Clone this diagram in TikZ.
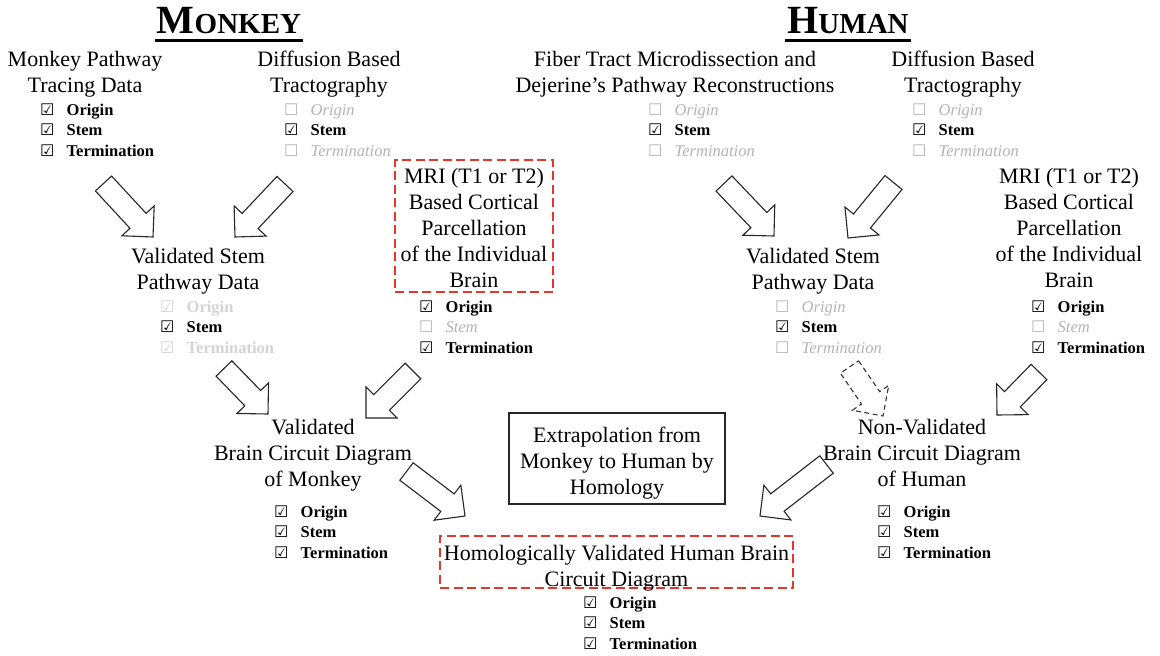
\documentclass[tikz,border=0pt]{standalone}
\usepackage{fontspec}
\setmainfont{Liberation Serif}
\newfontfamily\symf{DejaVu Sans}
\usetikzlibrary{calc}
\definecolor{redd}{HTML}{E0392B}
\definecolor{gA}{HTML}{B4B4B4}
\definecolor{gB}{HTML}{D4D4D4}
\newcommand\bxon{{\symf\fontsize{16}{16}\selectfont ☑}}
\newcommand\bxoff{{\symf\fontsize{16}{16}\selectfont ☐}}
\newcommand\chkyes[1]{\makebox[26.5pt][l]{\bxon}\textbf{#1}}
\newcommand\chkno[1]{{\color{gA}\makebox[26.5pt][l]{\bxoff}\textit{#1}}}
\newcommand\chkfaint[1]{{\color{gB}\makebox[26.5pt][l]{\bxon}\textbf{#1}}}
\newcommand\clist[3]{\begin{tabular}[t]{@{}l@{}}#1\\#2\\#3\end{tabular}}
\newcommand\blockarrow[3][]{%
  \path ($(#3)!22pt!(#2)$) coordinate (bah);
  \draw[barrow,#1] ($(#2)!11pt!90:(#3)$) -- ($(bah)!11pt!90:(#3)$) -- ($(bah)!22pt!90:(#3)$) -- (#3)
     -- ($(bah)!22pt!-90:(#3)$) -- ($(bah)!11pt!-90:(#3)$) -- ($(#2)!11pt!-90:(#3)$) -- cycle;}
\tikzset{
  lbl/.style={font=\fontsize{22}{26}\selectfont, align=center, inner sep=0pt, anchor=north},
  chk/.style={font=\fontsize{16.5}{20.5}\selectfont, inner sep=0pt, anchor=base west},
  ttl/.style={inner sep=0pt, anchor=base},
  reddash/.style={draw=redd, line width=2.8pt, dash pattern=on 9pt off 4.5pt, inner sep=0pt},
  plainbox/.style={draw=black!85, line width=1.1pt, inner sep=0pt},
  barrow/.style={draw=black!85, fill=white, line width=1.1pt, line join=miter},
  dasharrow/.style={draw=black!80, dash pattern=on 5pt off 3.5pt}
}
\begin{document}
\begin{tikzpicture}[x=1pt,y=-1pt]
\useasboundingbox[fill=white] (0,0) rectangle (1160,656);

% titles
\node[ttl] (mk) at (229,33) {\bfseries\fontsize{40}{40}\selectfont M\fontsize{29}{29}\selectfont ONKEY};
\draw[line width=2.4pt] ([yshift=-7.5pt,xshift=-2pt]mk.base west) -- ([yshift=-7.5pt,xshift=2pt]mk.base east);
\node[ttl] (hu) at (848,33) {\bfseries\fontsize{40}{40}\selectfont H\fontsize{29}{29}\selectfont UMAN};
\draw[line width=2.4pt] ([yshift=-7.5pt,xshift=-2pt]hu.base west) -- ([yshift=-7.5pt,xshift=2pt]hu.base east);

% monkey side
\node[lbl] (mtrace) at (85,51) {Monkey Pathway\\Tracing Data};
\node[chk] (c1) at (40,115) {\clist{\chkyes{Origin}}{\chkyes{Stem}}{\chkyes{Termination}}};
\node[lbl] (mdiff) at (329,51) {Diffusion Based\\Tractography};
\node[chk] (c2) at (284,115) {\clist{\chkno{Origin}}{\chkyes{Stem}}{\chkno{Termination}}};

\node[reddash, minimum width=158pt, minimum height=132pt] (mmribox) at (474,226) {};
\node[lbl] (mmri) at (474,168) {MRI (T1 or T2)\\Based Cortical\\Parcellation\\of the Individual\\Brain};
\node[chk] (c3) at (419,312) {\clist{\chkyes{Origin}}{\chkno{Stem}}{\chkyes{Termination}}};

\node[lbl] (mstem) at (198,248) {Validated Stem\\Pathway Data};
\node[chk] (c4) at (160,312) {\clist{\chkfaint{Origin}}{\chkyes{Stem}}{\chkfaint{Termination}}};

\node[lbl] (mcirc) at (313,419) {Validated\\Brain Circuit Diagram\\of Monkey};
\node[chk] (c5) at (274,517) {\clist{\chkyes{Origin}}{\chkyes{Stem}}{\chkyes{Termination}}};

% centre
\node[plainbox, minimum width=216pt, minimum height=91pt] (extbox) at (617,458.5) {};
\node[lbl] (ext) at (617,427) {Extrapolation from\\Monkey to Human by\\Homology};
\node[reddash, minimum width=353pt, minimum height=52pt] (homobox) at (616.5,562) {};
\node[lbl] (homo) at (616.5,545) {Homologically Validated Human Brain\\Circuit Diagram};
\node[chk] (c6) at (583,608) {\clist{\chkyes{Origin}}{\chkyes{Stem}}{\chkyes{Termination}}};

% human side
\node[lbl] (hfib) at (675,51) {Fiber Tract Microdissection and\\Dejerine’s Pathway Reconstructions};
\node[chk] (c7) at (648,115) {\clist{\chkno{Origin}}{\chkyes{Stem}}{\chkno{Termination}}};
\node[lbl] (hdiff) at (963,51) {Diffusion Based\\Tractography};
\node[chk] (c8) at (912,115) {\clist{\chkno{Origin}}{\chkyes{Stem}}{\chkno{Termination}}};

\node[lbl] (hmri) at (1069,168) {MRI (T1 or T2)\\Based Cortical\\Parcellation\\of the Individual\\Brain};
\node[chk] (c9) at (1031,312) {\clist{\chkyes{Origin}}{\chkno{Stem}}{\chkyes{Termination}}};

\node[lbl] (hstem) at (813,248) {Validated Stem\\Pathway Data};
\node[chk] (c10) at (775,312) {\clist{\chkno{Origin}}{\chkyes{Stem}}{\chkno{Termination}}};

\node[lbl] (hcirc) at (922,419) {Non-Validated\\Brain Circuit Diagram\\of Human};
\node[chk] (c11) at (877,517) {\clist{\chkyes{Origin}}{\chkyes{Stem}}{\chkyes{Termination}}};

% block arrows
\coordinate (a1s) at (103.5,183.5); \coordinate (a1e) at (153,237);
\coordinate (a2s) at (285,184);     \coordinate (a2e) at (235,237);
\coordinate (a3s) at (224,368.5);   \coordinate (a3e) at (268,414);
\coordinate (a4s) at (413,371);     \coordinate (a4e) at (366,418);
\coordinate (a5s) at (406.5,471.5); \coordinate (a5e) at (465,516);
\coordinate (a6s) at (724,183.5);   \coordinate (a6e) at (774,236);
\coordinate (a7s) at (893.5,182.5); \coordinate (a7e) at (848,238);
\coordinate (a8s) at (849.5,367);   \coordinate (a8e) at (883,416);
\coordinate (a9s) at (1039,372);    \coordinate (a9e) at (997,415);
\coordinate (a10s) at (826.5,464.5); \coordinate (a10e) at (760,516);
\blockarrow{a1s}{a1e}
\blockarrow{a2s}{a2e}
\blockarrow{a3s}{a3e}
\blockarrow{a4s}{a4e}
\blockarrow{a5s}{a5e}
\blockarrow{a6s}{a6e}
\blockarrow{a7s}{a7e}
\blockarrow[dasharrow]{a8s}{a8e}
\blockarrow{a9s}{a9e}
\blockarrow{a10s}{a10e}
\end{tikzpicture}
\end{document}
